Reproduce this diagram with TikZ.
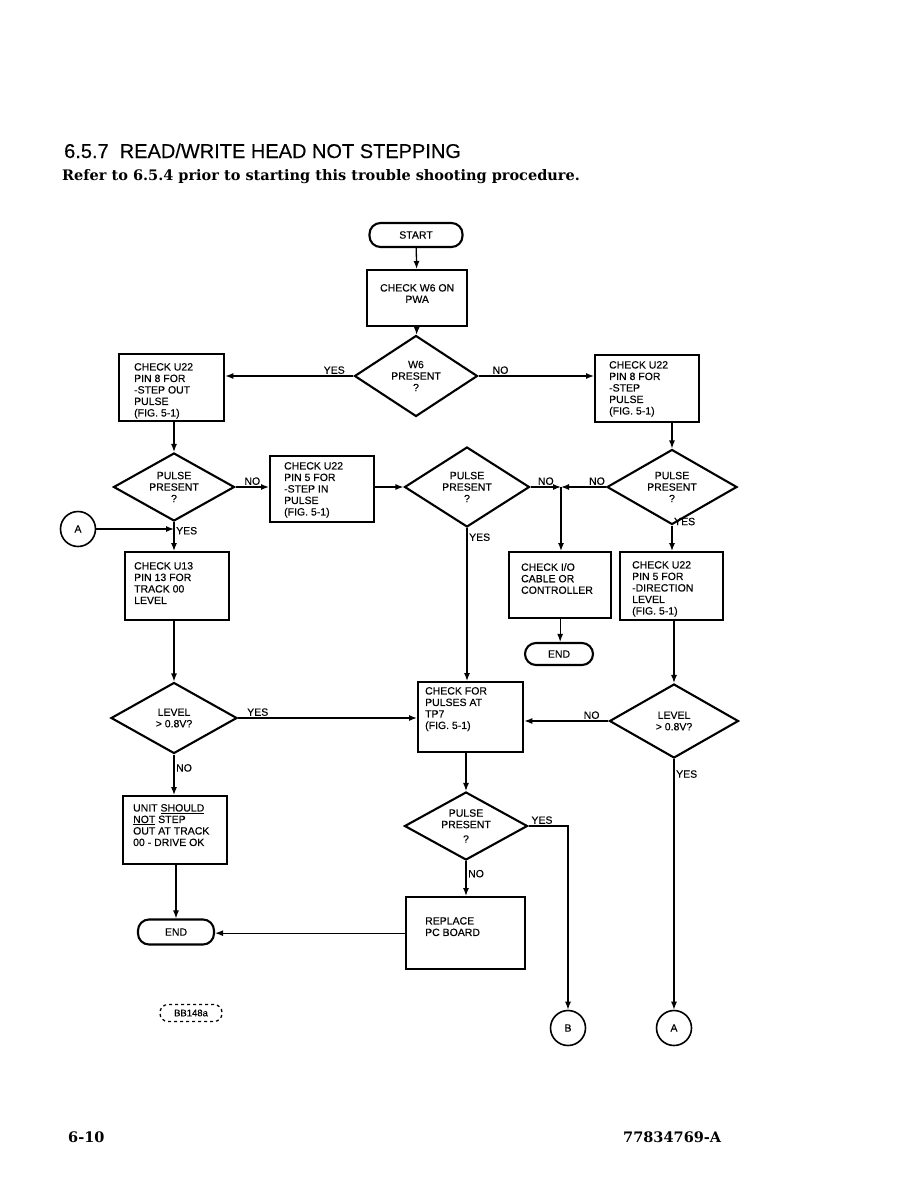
\documentclass[tikz,border=0pt]{standalone}
\usepackage{fontspec}
\setmainfont{Liberation Sans}
\newfontfamily\flowfam[FakeBold=0.3]{Liberation Sans}
\newfontfamily\refont{DejaVu Serif}
\usetikzlibrary{arrows.meta, shapes.geometric, positioning}

\newcommand{\flowfont}{\flowfam\fontsize{10.5}{11.5}\selectfont}
\newcommand{\boxtxt}[5]{\parbox[t][#4][t]{#3}{\vspace*{#2}\leftskip=#1\relax #5}}

\tikzset{
  box/.style={draw, line width=2.3pt, anchor=north west, inner sep=0pt, font=\flowfont},
  dec/.style={draw, diamond, aspect=1.5, line width=2.1pt, inner sep=0pt, align=center, font=\flowfont},
  term/.style={draw, rectangle, rounded corners=11pt, line width=2.1pt, inner sep=0pt, font=\flowfont},
  conn/.style={draw, circle, line width=1.6pt, minimum size=35pt, inner sep=0pt, font=\flowfont},
  flow/.style={line width=1.3pt, -{Latex[length=8pt,width=6pt]}},
  lbl/.style={inner sep=1.5pt, font=\flowfont},
}

\begin{document}
\begin{tikzpicture}[x=1pt, y=-1pt]
            \useasboundingbox (0,0) rectangle (918,1188);
            \node[anchor=base west, inner sep=0pt, font=\flowfam\fontsize{20}{24}\selectfont] (title) at (64,158) {6.5.7\ \ READ/WRITE HEAD NOT STEPPING};
            \node[anchor=base west, inner sep=0pt, font=\refont\bfseries\fontsize{14.5}{17}\selectfont] (intro) at (62,180) {Refer to 6.5.4 prior to starting this trouble shooting procedure.};
            \node[term, minimum width=93pt, minimum height=24pt] (start) at (416,235) {START};
            \node[box] (w6) at (366,269) {\boxtxt{0pt}{14pt}{100pt}{56pt}{\centering CHECK W6 ON\\PWA}};
            \node[dec, minimum width=123pt, minimum height=81pt] (d1) at (416,376) {W6\\PRESENT\\?};
            \node[box] (l1) at (118,353) {\boxtxt{15pt}{9pt}{105pt}{67pt}{CHECK U22\\PIN 8 FOR\\-STEP OUT\\PULSE\\(FIG. 5-1)}};
            \node[box] (r1) at (594,354) {\boxtxt{14pt}{6pt}{104pt}{67pt}{CHECK U22\\PIN 8 FOR\\-STEP\\PULSE\\(FIG. 5-1)}};
            \node[dec, minimum width=121pt, minimum height=68pt] (d2) at (174,487) {PULSE\\PRESENT\\?};
            \node[box] (c1) at (269,455) {\boxtxt{14pt}{6pt}{104pt}{66pt}{CHECK U22\\PIN 5 FOR\\-STEP IN\\PULSE\\(FIG. 5-1)}};
            \node[dec, minimum width=125pt, minimum height=80pt] (d3) at (467,487) {PULSE\\PRESENT\\?};
            \node[dec, minimum width=130pt, minimum height=75pt] (d4) at (672,487) {PULSE\\PRESENT\\?};
            \coordinate (j) at (561,487);
            \node[box] (io) at (508,551) {\boxtxt{12pt}{11pt}{102pt}{66pt}{CHECK I/O\\CABLE OR\\CONTROLLER}};
            \node[box] (r3) at (619,551) {\boxtxt{12pt}{9pt}{103pt}{68pt}{CHECK U22\\PIN 5 FOR\\-DIRECTION\\LEVEL\\(FIG. 5-1)}};
            \node[term, minimum width=68pt, minimum height=22pt] (end1) at (559,654) {END};
            \node[conn] (a1) at (78,529) {A};
            \node[box] (l3) at (124,551) {\boxtxt{9pt}{10pt}{104pt}{68pt}{CHECK U13\\PIN 13 FOR\\TRACK 00\\LEVEL}};
            \node[dec, minimum width=126pt, minimum height=71pt] (d5) at (174,718) {LEVEL\\> 0.8V?};
            \node[box] (tp7) at (417,681) {\boxtxt{7pt}{5pt}{105pt}{70pt}{CHECK FOR\\PULSES AT\\TP7\\(FIG. 5-1)}};
            \node[dec, minimum width=129pt, minimum height=74pt] (d6) at (674,721) {LEVEL\\> 0.8V?};
            \node[box] (unit) at (122,795) {\boxtxt{10pt}{8pt}{104pt}{68pt}{UNIT \underline{SHOULD}\\\underline{NOT} STEP\\OUT AT TRACK\\00 - DRIVE OK}};
            \node[dec, minimum width=123pt, minimum height=68pt] (d7) at (466,826) {PULSE\\PRESENT\\[3pt]?};
            \node[box] (rep) at (405,896) {\boxtxt{19pt}{20pt}{119pt}{72pt}{REPLACE\\PC BOARD}};
            \node[term, minimum width=76pt, minimum height=25pt] (end2) at (176,932) {END};
            \node[conn] (b) at (568,1028) {B};
            \node[conn] (a2) at (674,1028) {A};
            \node[draw, dashed, rounded corners=8pt, line width=1.3pt, minimum width=62pt, minimum height=17pt, font=\flowfam\fontsize{9.5}{11}\selectfont] (tag) at (191,1013) {BB148a};
            \node[anchor=base west, inner sep=0pt, font=\refont\bfseries\fontsize{14.5}{17}\selectfont] (pg) at (68,1142) {6-10};
            \node[anchor=base west, inner sep=0pt, font=\refont\bfseries\fontsize{14.5}{17}\selectfont] (doc) at (623,1142) {77834769-A};
            \draw[flow] (start) -- (w6);
            \draw[flow] (w6) -- (d1);
            \draw[flow] (d1.west) -- node[lbl, above, pos=0.15] {YES} (d1.west -| l1.east);
            \draw[flow] (d1.east) -- node[lbl, above, pos=0.19] {NO} (d1.east -| r1.west);
            \draw[flow] (d2.north |- l1.south) -- (d2.north);
            \draw[flow] (d2.east) -- node[lbl, above] {NO} (d2.east -| c1.west);
            \draw[flow] (c1.east |- d3.west) -- (d3.west);
            \draw[flow] (d3.east) -- node[lbl, above] {NO} (j);
            \draw[flow] (d4.west) -- node[lbl, above, pos=0.2] {NO} (j);
            \draw[flow] (j) -- (j |- io.north);
            \draw[flow] (d4.north |- r1.south) -- (d4.north);
            \draw[flow] (d4.south) -- node[lbl, anchor=west, at start, yshift=4pt] {YES} (d4.south |- r3.north);
            \draw[flow] (io.south) -- (io.south |- end1.north);
            \draw[flow] (a1) -- (a1 -| d2.south);
            \draw[flow] (d2.south) -- node[lbl, right, pos=0.3] {YES} (d2.south |- l3.north);
            \draw[flow] (d5.north |- l3.south) -- (d5.north);
            \draw[flow] (d5.east) -- node[lbl, above, pos=0.11] {YES} (d5.east -| tp7.west);
            \draw[flow] (d5.south) -- node[lbl, right, pos=0.33] {NO} (d5.south |- unit.north);
            \draw[flow] (end2.north |- unit.south) -- (end2.north);
            \draw[flow] (d3.south) -- node[lbl, right, pos=0.06] {YES} (d3.south |- tp7.north);
            \draw[flow] (d6.west) -- node[lbl, above, pos=0.2] {NO} (d6.west -| tp7.east);
            \draw[flow] (d6.north |- r3.south) -- (d6.north);
            \draw[flow] (d7.north |- tp7.south) -- (d7.north);
            \draw[flow] (d7.east) -| node[lbl, above, pos=0.17] {YES} (b.north);
            \draw[flow] (d7.south) -- node[lbl, right, pos=0.36] {NO} (d7.south |- rep.north);
            \draw[flow] (rep.west) -- (rep.west -| end2.east);
            \draw[flow] (d6.south) -- node[lbl, right, pos=0.06] {YES} (a2.north);
\end{tikzpicture}
\end{document}
